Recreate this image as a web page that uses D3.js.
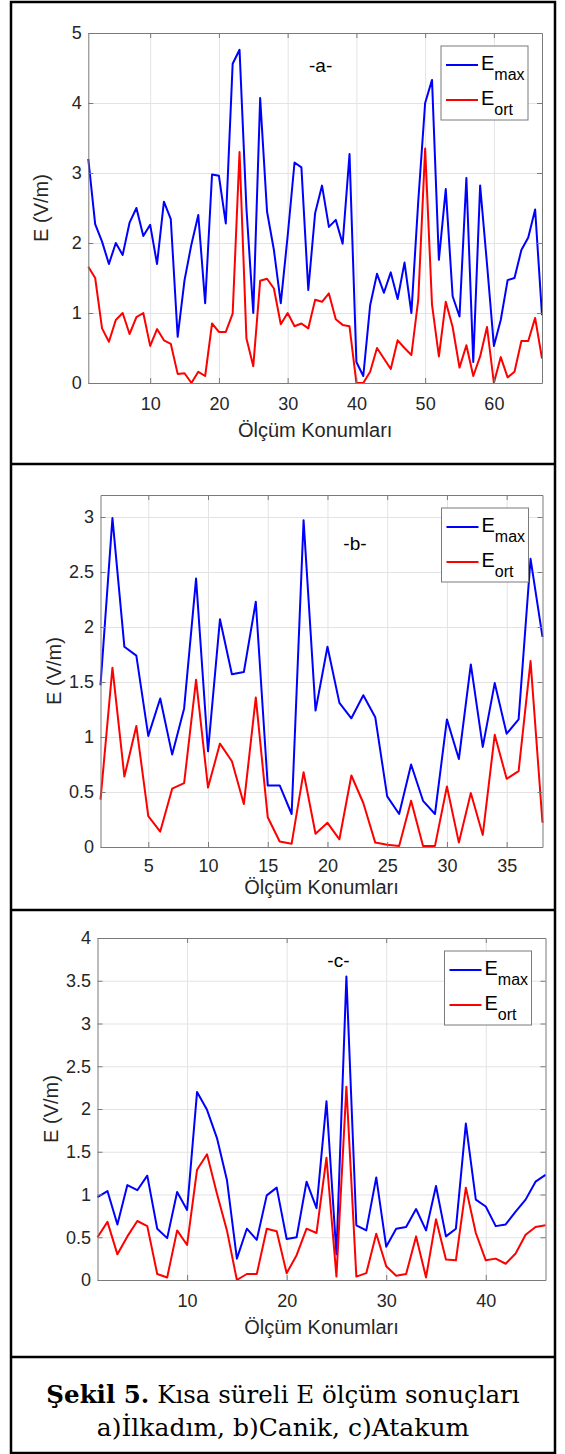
<!DOCTYPE html>
<html>
<head>
<meta charset="utf-8">
<script src="https://cdn.jsdelivr.net/npm/d3@7"></script>
<style>
  body { margin: 0; background: #fff; }
  svg { display: block; }
</style>
</head>
<body>
<svg id="fig" width="565" height="1454"></svg>
<script>
// -a- Ilkadim
var aEmax = [3.2, 2.27, 2.02, 1.70, 2.0, 1.83, 2.29, 2.50, 2.1, 2.26, 1.70, 2.59, 2.34, 0.66, 1.47, 1.98, 2.40, 1.14, 2.98, 2.96,
             2.28, 4.56, 4.76, 2.5, 1.0, 4.07, 2.45, 1.9, 1.14, 2.1, 3.15, 3.08, 1.33, 2.43, 2.82, 2.23, 2.33, 1.99, 3.27, 0.30,
             0.10, 1.11, 1.56, 1.29, 1.58, 1.20, 1.72, 1.00, 2.6, 4.0, 4.33, 1.76, 2.77, 1.24, 0.95, 2.93, 0.30, 2.82, 1.7, 0.53,
             0.9, 1.47, 1.5, 1.9, 2.08, 2.48, 0.97];
var aEort = [1.66, 1.50, 0.78, 0.59, 0.90, 1.0, 0.70, 0.94, 1.0, 0.53, 0.77, 0.61, 0.56, 0.13, 0.14, 0, 0.16, 0.10, 0.85, 0.73,
             0.73, 0.99, 3.30, 0.64, 0.24, 1.46, 1.49, 1.35, 0.84, 1.0, 0.81, 0.85, 0.78, 1.19, 1.16, 1.28, 0.91, 0.83, 0.81, 0,
             0, 0.16, 0.50, 0.35, 0.20, 0.61, 0.50, 0.40, 1.19, 3.35, 1.12, 0.38, 1.16, 0.80, 0.22, 0.54, 0.10, 0.38, 0.80, 0,
             0.37, 0.08, 0.16, 0.60, 0.60, 0.93, 0.35];
var aXTicks = [10, 20, 30, 40, 50, 60];
var aYTicks = [0, 1, 2, 3, 4, 5];

// -b- Canik
var bEmax = [1.47, 2.99, 1.82, 1.74, 1.01, 1.35, 0.84, 1.26, 2.44, 0.87, 2.07, 1.57, 1.59, 2.23, 0.56, 0.56, 0.30, 2.97, 1.24, 1.82,
             1.31, 1.17, 1.38, 1.18, 0.46, 0.30, 0.75, 0.42, 0.30, 1.16, 0.80, 1.66, 0.91, 1.49, 1.03, 1.16, 2.62, 1.91];
var bEort = [0.43, 1.63, 0.64, 1.10, 0.28, 0.14, 0.53, 0.58, 1.52, 0.54, 0.94, 0.78, 0.39, 1.36, 0.27, 0.05, 0.03, 0.68, 0.12, 0.22,
             0.07, 0.65, 0.40, 0.04, 0.02, 0.01, 0.42, 0.01, 0.01, 0.55, 0.04, 0.49, 0.11, 1.02, 0.62, 0.69, 1.69, 0.22];
var bXTicks = [5, 10, 15, 20, 25, 30, 35];
var bYTicks = [0, 0.5, 1, 1.5, 2, 2.5, 3];

// -c- Atakum
var cEmax = [0.97, 1.04, 0.65, 1.11, 1.05, 1.22, 0.60, 0.49, 1.03, 0.82, 2.20, 1.99, 1.66, 1.17, 0.25, 0.60, 0.47, 0.99, 1.08, 0.48,
             0.50, 1.15, 0.84, 2.09, 0.30, 3.55, 0.64, 0.58, 1.20, 0.39, 0.60, 0.62, 0.83, 0.58, 1.10, 0.51, 0.60, 1.83, 0.94, 0.86,
             0.63, 0.65, 0.80, 0.94, 1.15, 1.23];
var cEort = [0.50, 0.68, 0.30, 0.51, 0.69, 0.63, 0.07, 0.03, 0.58, 0.41, 1.29, 1.47, 1.01, 0.58, 0.00, 0.07, 0.07, 0.60, 0.57, 0.08,
             0.29, 0.60, 0.55, 1.43, 0.04, 2.26, 0.04, 0.08, 0.54, 0.16, 0.05, 0.07, 0.51, 0.03, 0.71, 0.24, 0.23, 1.08, 0.55, 0.23,
             0.25, 0.19, 0.31, 0.53, 0.62, 0.64];
var cXTicks = [10, 20, 30, 40];
var cYTicks = [0, 0.5, 1, 1.5, 2, 2.5, 3, 3.5, 4];

var seriesNames = ["max", "ort"];
var seriesColors = ["#0000ff", "#ff0000"];
var xLabel = "Ölçüm Konumları";
var yLabel = "E (V/m)";

var svg = d3.select("#fig");
var sans = "'Liberation Sans', Arial, sans-serif";

// outer table frame
svg.append("rect").attr("x", 11).attr("y", 2).attr("width", 544).attr("height", 1451)
    .attr("fill", "none").attr("stroke", "#000").attr("stroke-width", 2.5);
[464, 910, 1357].forEach(function(y) {
    svg.append("line").attr("x1", 11).attr("x2", 555).attr("y1", y).attr("y2", y)
        .attr("stroke", "#000").attr("stroke-width", 2.5);
});

function drawPanel(p) {
    var x = d3.scaleLinear().domain([1, p.emax.length]).range([p.left, p.right]);
    var y = d3.scaleLinear().domain([0, p.yMax]).range([p.bottom, p.top]);
    var w = p.right - p.left, h = p.bottom - p.top;
    var g = svg.append("g");

    // grid
    g.append("g").attr("transform", "translate(0," + p.bottom + ")")
        .call(d3.axisBottom(x).tickValues(p.xTicks).tickSize(-h).tickFormat(""))
        .call(function(s) { s.select(".domain").remove(); s.selectAll("line").attr("stroke", "#e3e3e3"); });
    g.append("g").attr("transform", "translate(" + p.left + ",0)")
        .call(d3.axisLeft(y).tickValues(p.yTicks).tickSize(-w).tickFormat(""))
        .call(function(s) { s.select(".domain").remove(); s.selectAll("line").attr("stroke", "#e3e3e3"); });

    // lines
    [p.emax, p.eort].forEach(function(vals, k) {
        g.append("path").datum(vals)
            .attr("fill", "none").attr("stroke", seriesColors[k]).attr("stroke-width", 2)
            .attr("stroke-linejoin", "round")
            .attr("d", d3.line().x(function(d, i) { return x(i + 1); }).y(function(d) { return y(d); }));
    });

    // axes, ticks inward
    var axCol = "#7a7a7a";
    function style(s) {
        s.select(".domain").attr("stroke", axCol);
        s.selectAll(".tick line").attr("stroke", axCol);
        s.selectAll("text").attr("fill", "#262626").attr("font-family", sans).attr("font-size", 18);
    }
    g.append("g").attr("transform", "translate(0," + p.bottom + ")")
        .call(d3.axisBottom(x).tickValues(p.xTicks).tickSizeInner(-5).tickSizeOuter(0).tickPadding(p.xTickPad)).call(style);
    g.append("g").attr("transform", "translate(0," + p.top + ")")
        .call(d3.axisTop(x).tickValues(p.xTicks).tickSizeInner(-5).tickSizeOuter(0).tickFormat("")).call(style);
    g.append("g").attr("transform", "translate(" + p.left + ",0)")
        .call(d3.axisLeft(y).tickValues(p.yTicks).tickSizeInner(-5).tickSizeOuter(0).tickPadding(6.5)
            .tickFormat(d3.format("~g"))).call(style);
    g.append("g").attr("transform", "translate(" + p.right + ",0)")
        .call(d3.axisRight(y).tickValues(p.yTicks).tickSizeInner(-5).tickSizeOuter(0).tickFormat("")).call(style);

    // axis labels
    g.append("text").attr("x", (p.left + p.right) / 2).attr("y", p.bottom + p.xLabelGap)
        .attr("text-anchor", "middle").attr("font-family", sans).attr("font-size", 20).attr("fill", "#262626")
        .text(xLabel);
    g.append("text").attr("transform", "translate(" + (p.left - 40) + "," + ((p.top + p.bottom) / 2) + ") rotate(-90)")
        .attr("text-anchor", "middle").attr("font-family", sans).attr("font-size", 20).attr("fill", "#262626")
        .text(yLabel);

    // panel tag
    g.append("text").attr("x", x(p.tagAt[0])).attr("y", y(p.tagAt[1]))
        .attr("text-anchor", "middle").attr("font-family", sans).attr("font-size", 19).attr("fill", "#000")
        .text(p.tag);

    // legend
    var lx = p.right - 14 - 87, ly = p.top + 13;
    var lg = g.append("g").attr("transform", "translate(" + lx + "," + ly + ")");
    lg.append("rect").attr("width", 87).attr("height", 74).attr("fill", "#fff").attr("stroke", "#7a7a7a");
    seriesNames.forEach(function(name, k) {
        var yy = 19 + k * 35;
        lg.append("line").attr("x1", 5).attr("x2", 37).attr("y1", yy).attr("y2", yy)
            .attr("stroke", seriesColors[k]).attr("stroke-width", 2);
        var t = lg.append("text").attr("x", 40).attr("y", yy + 4.5).attr("font-family", sans).attr("fill", "#000");
        t.append("tspan").attr("font-size", 20).text("E");
        t.append("tspan").attr("font-size", 16).attr("dy", 10).text(name);
    });
}

drawPanel({emax: aEmax, eort: aEort, xTicks: aXTicks, yTicks: aYTicks, yMax: 5,
    left: 88.3, right: 542, top: 33, bottom: 383, xTickPad: 14, xLabelGap: 54, tag: "-a-", tagAt: [34.8, 4.45]});
drawPanel({emax: bEmax, eort: bEort, xTicks: bXTicks, yTicks: bYTicks, yMax: 3.2,
    left: 100.5, right: 542.5, top: 495, bottom: 847, xTickPad: 12, xLabelGap: 46.5, tag: "-b-", tagAt: [22.3, 2.7]});
drawPanel({emax: cEmax, eort: cEort, xTicks: cXTicks, yTicks: cYTicks, yMax: 4,
    left: 97.5, right: 545.5, top: 938, bottom: 1280, xTickPad: 14, xLabelGap: 54, tag: "-c-", tagAt: [25.2, 3.66]});

// caption
var serif = "'DejaVu Serif', 'Liberation Serif', serif";
var cap1 = svg.append("text").attr("x", 283).attr("y", 1403).attr("text-anchor", "middle")
    .attr("font-family", serif).attr("font-size", 24.5).attr("fill", "#000");
cap1.append("tspan").attr("font-weight", "bold").text("Şekil 5.");
cap1.append("tspan").text(" Kısa süreli E ölçüm sonuçları");
svg.append("text").attr("x", 283).attr("y", 1436).attr("text-anchor", "middle")
    .attr("font-family", serif).attr("font-size", 25).attr("fill", "#000")
    .text("a)İlkadım, b)Canik, c)Atakum");
</script>
</body>
</html>
